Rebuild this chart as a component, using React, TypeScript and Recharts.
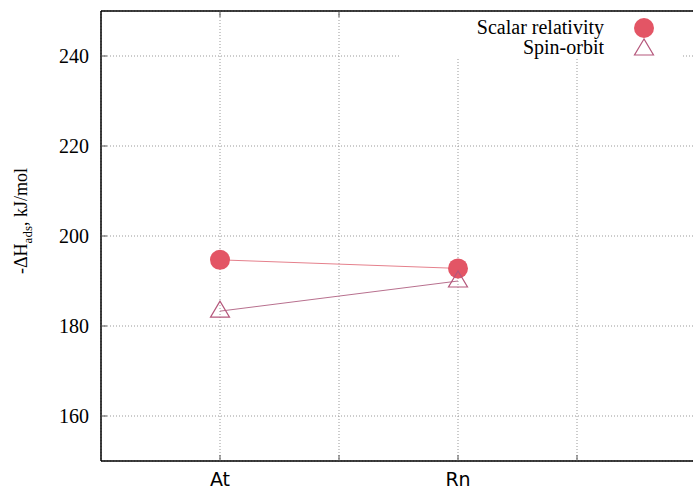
import React from "react";
import { LineChart, Line, XAxis, YAxis, CartesianGrid } from "recharts";

const categories = ["At", "Rn"];
const categoryX = [1, 3];
const scalarRelativity = [194.7, 192.8];
const spinOrbit = [183.3, 190];
const yTicks = [160, 180, 200, 220, 240];
const xTicks = [1, 2, 3, 4];
const seriesNames = ["Scalar relativity", "Spin-orbit"];

const data = categoryX.map((x, i) => ({
  x,
  name: categories[i],
  sr: scalarRelativity[i],
  so: spinOrbit[i],
}));

const CIRCLE = "#e35565";
const TRI = "#b5587c";
const SR_LINE = "#e5808c";
const SO_LINE = "#b8708e";

const SERIF = "'Liberation Serif', 'Times New Roman', serif";
const SANS = "'DejaVu Sans', sans-serif";

const CircleDot = (props: any) => {
  const { cx, cy } = props;
  if (cx == null || cy == null) return null;
  return <circle cx={cx} cy={cy} r={10} fill={CIRCLE} stroke="none" />;
};

const TriDot = (props: any) => {
  const { cx, cy } = props;
  if (cx == null || cy == null) return null;
  const d = `M${cx},${cy - 10} L${cx - 9.5},${cy + 6} L${cx + 9.5},${cy + 6} Z`;
  return <path d={d} fill="none" stroke={TRI} strokeWidth={1.2} />;
};

const xLabel = (v: number) => {
  const i = categoryX.indexOf(v);
  return i >= 0 ? categories[i] : "";
};

const YLabel = () => (
  <text
    x={27}
    y={221}
    transform="rotate(-90, 27, 221)"
    textAnchor="middle"
    fontFamily={SERIF}
    fontSize={18}
    fill="#000"
  >
    -ΔH
    <tspan dy={5} fontSize={13}>ads</tspan>
    <tspan dy={-5}>, kJ/mol</tspan>
  </text>
);

const LegendBox = () => (
  <div
    style={{
      position: "absolute",
      left: 400,
      top: 12,
      width: 283,
      height: 45,
      background: "#fff",
      fontFamily: SERIF,
      fontSize: 20,
      color: "#000",
    }}
  >
    <div style={{ position: "absolute", right: 79, top: 4, lineHeight: "22px", whiteSpace: "nowrap" }}>
      {seriesNames[0]}
    </div>
    <div style={{ position: "absolute", right: 79, top: 24, lineHeight: "22px", whiteSpace: "nowrap" }}>
      {seriesNames[1]}
    </div>
    <svg width={283} height={45} style={{ position: "absolute", left: 0, top: 0 }}>
      <circle cx={244} cy={16} r={10} fill={CIRCLE} />
      <path d={`M244,${37 - 10} L${244 - 9.5},${37 + 6} L${244 + 9.5},${37 + 6} Z`} fill="none" stroke={TRI} strokeWidth={1.2} />
    </svg>
  </div>
);

export default function App() {
  return (
    <div style={{ position: "absolute", left: 0, top: 0, width: 693, height: 489, overflow: "hidden", background: "#fff" }}>
      <LineChart width={700} height={489} data={data} margin={{ top: 10, right: 3, left: 0, bottom: 0 }}>
        <CartesianGrid stroke="#999" strokeDasharray="1 2" strokeWidth={1} />
        <XAxis
          xAxisId="top"
          orientation="top"
          dataKey="x"
          type="number"
          domain={[0, 5]}
          ticks={xTicks}
          height={1}
          tickFormatter={() => ""}
          tickSize={-6}
          axisLine={{ stroke: "#000", strokeWidth: 1.5 }}
          tickLine={{ stroke: "#555" }}
        />
        <XAxis
          dataKey="x"
          type="number"
          domain={[0, 5]}
          ticks={xTicks}
          tickFormatter={xLabel}
          height={28}
          tickSize={-6}
          tickMargin={18}
          interval={0}
          axisLine={{ stroke: "#000", strokeWidth: 1.5 }}
          tickLine={{ stroke: "#555" }}
          tick={{ fontFamily: SANS, fontSize: 19, fill: "#000" }}
        />
        <YAxis
          domain={[150, 250]}
          ticks={yTicks}
          width={101}
          tickSize={-6}
          tickMargin={18}
          interval={0}
          axisLine={{ stroke: "#000", strokeWidth: 1.5 }}
          tickLine={{ stroke: "#555" }}
          tick={{ fontFamily: SERIF, fontSize: 20, fill: "#000" }}
          label={<YLabel />}
        />
        <YAxis
          yAxisId="right"
          orientation="right"
          domain={[150, 250]}
          ticks={yTicks}
          width={1}
          tickFormatter={() => ""}
          tickSize={-6}
          axisLine={{ stroke: "#000", strokeWidth: 1.5 }}
          tickLine={{ stroke: "#555" }}
        />
        <Line
          dataKey="sr"
          name={seriesNames[0]}
          stroke={SR_LINE}
          strokeWidth={1}
          dot={<CircleDot />}
          activeDot={false}
          isAnimationActive={false}
        />
        <Line
          dataKey="so"
          name={seriesNames[1]}
          stroke={SO_LINE}
          strokeWidth={1}
          dot={<TriDot />}
          activeDot={false}
          isAnimationActive={false}
        />
      </LineChart>
      <LegendBox />
    </div>
  );
}
